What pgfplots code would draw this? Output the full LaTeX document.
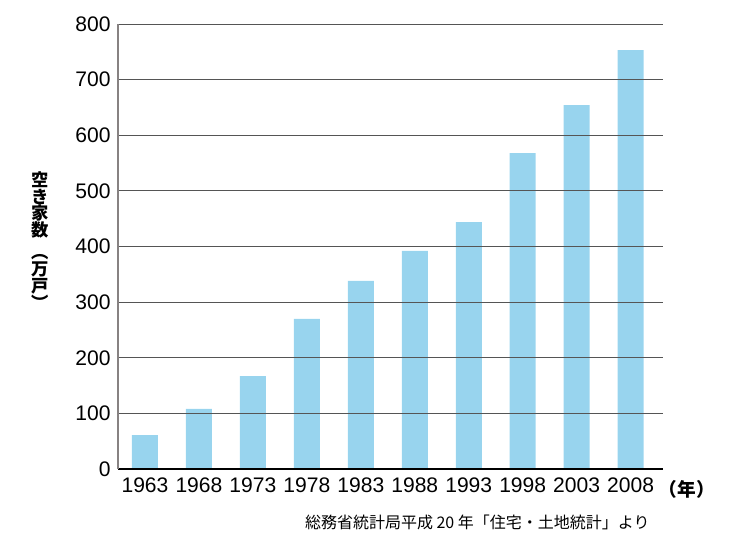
\documentclass[border=0pt]{standalone}
\usepackage{fontspec}
\usepackage{pgfplots}
\pgfplotsset{compat=1.18}
\setmainfont{Liberation Sans}
\newfontfamily\jp{Noto Sans CJK JP}
\definecolor{barblue}{RGB}{152,212,238}
\definecolor{gridgray}{RGB}{85,85,85}
\definecolor{axgray}{RGB}{135,130,130}
\begin{document}
\begin{tikzpicture}
\path[use as bounding box] (0,0) rectangle (555pt,404.25pt);
\begin{axis}[
  at={(88.5pt,52.5pt)}, anchor=south west,
  scale only axis, width=408.75pt, height=333.75pt,
  xmin=-0.5, xmax=9.6, ymin=0, ymax=800,
  axis on top,
  axis x line*=bottom, axis y line*=left,
  x axis line style={black, line width=0.8pt, -},
  y axis line style={axgray, line width=1.2pt, -},
  ymajorgrids, grid style={gridgray, line width=0.7pt},
  major tick length=0pt,
  xtick={0,...,9},
  xticklabels={1963,1968,1973,1978,1983,1988,1993,1998,2003,2008},
  ytick={0,100,...,800},
  tick label style={font=\fontsize{15.8}{17}\selectfont},
  /pgf/number format/assume math mode=true,
  /pgf/number format/1000 sep={},
  yticklabel style={xshift=-2pt},
  xticklabel style={yshift=-3pt},
]
\addplot[ybar, bar width=19.5pt, fill=barblue, draw=none] coordinates {
 (0,61) (1,108) (2,167) (3,270) (4,338) (5,392) (6,444) (7,568) (8,654) (9,753)};
\end{axis}
\node[font=\jp\bfseries\fontsize{13}{12.6}\selectfont, align=center, inner sep=0pt] at (30pt,224pt)
  {空\\き\\家\\数\\[4pt]︵\\万\\戸\\︶};
\node[font=\jp\bfseries\fontsize{14}{15}\selectfont, inner sep=0pt] at (515pt,37.5pt) {（年）};
\node[font=\jp\fontsize{12}{13}\selectfont, inner sep=0pt] at (358pt,12.75pt) {総務省統計局平成 20 年「住宅・土地統計」より};
\end{tikzpicture}
\end{document}
